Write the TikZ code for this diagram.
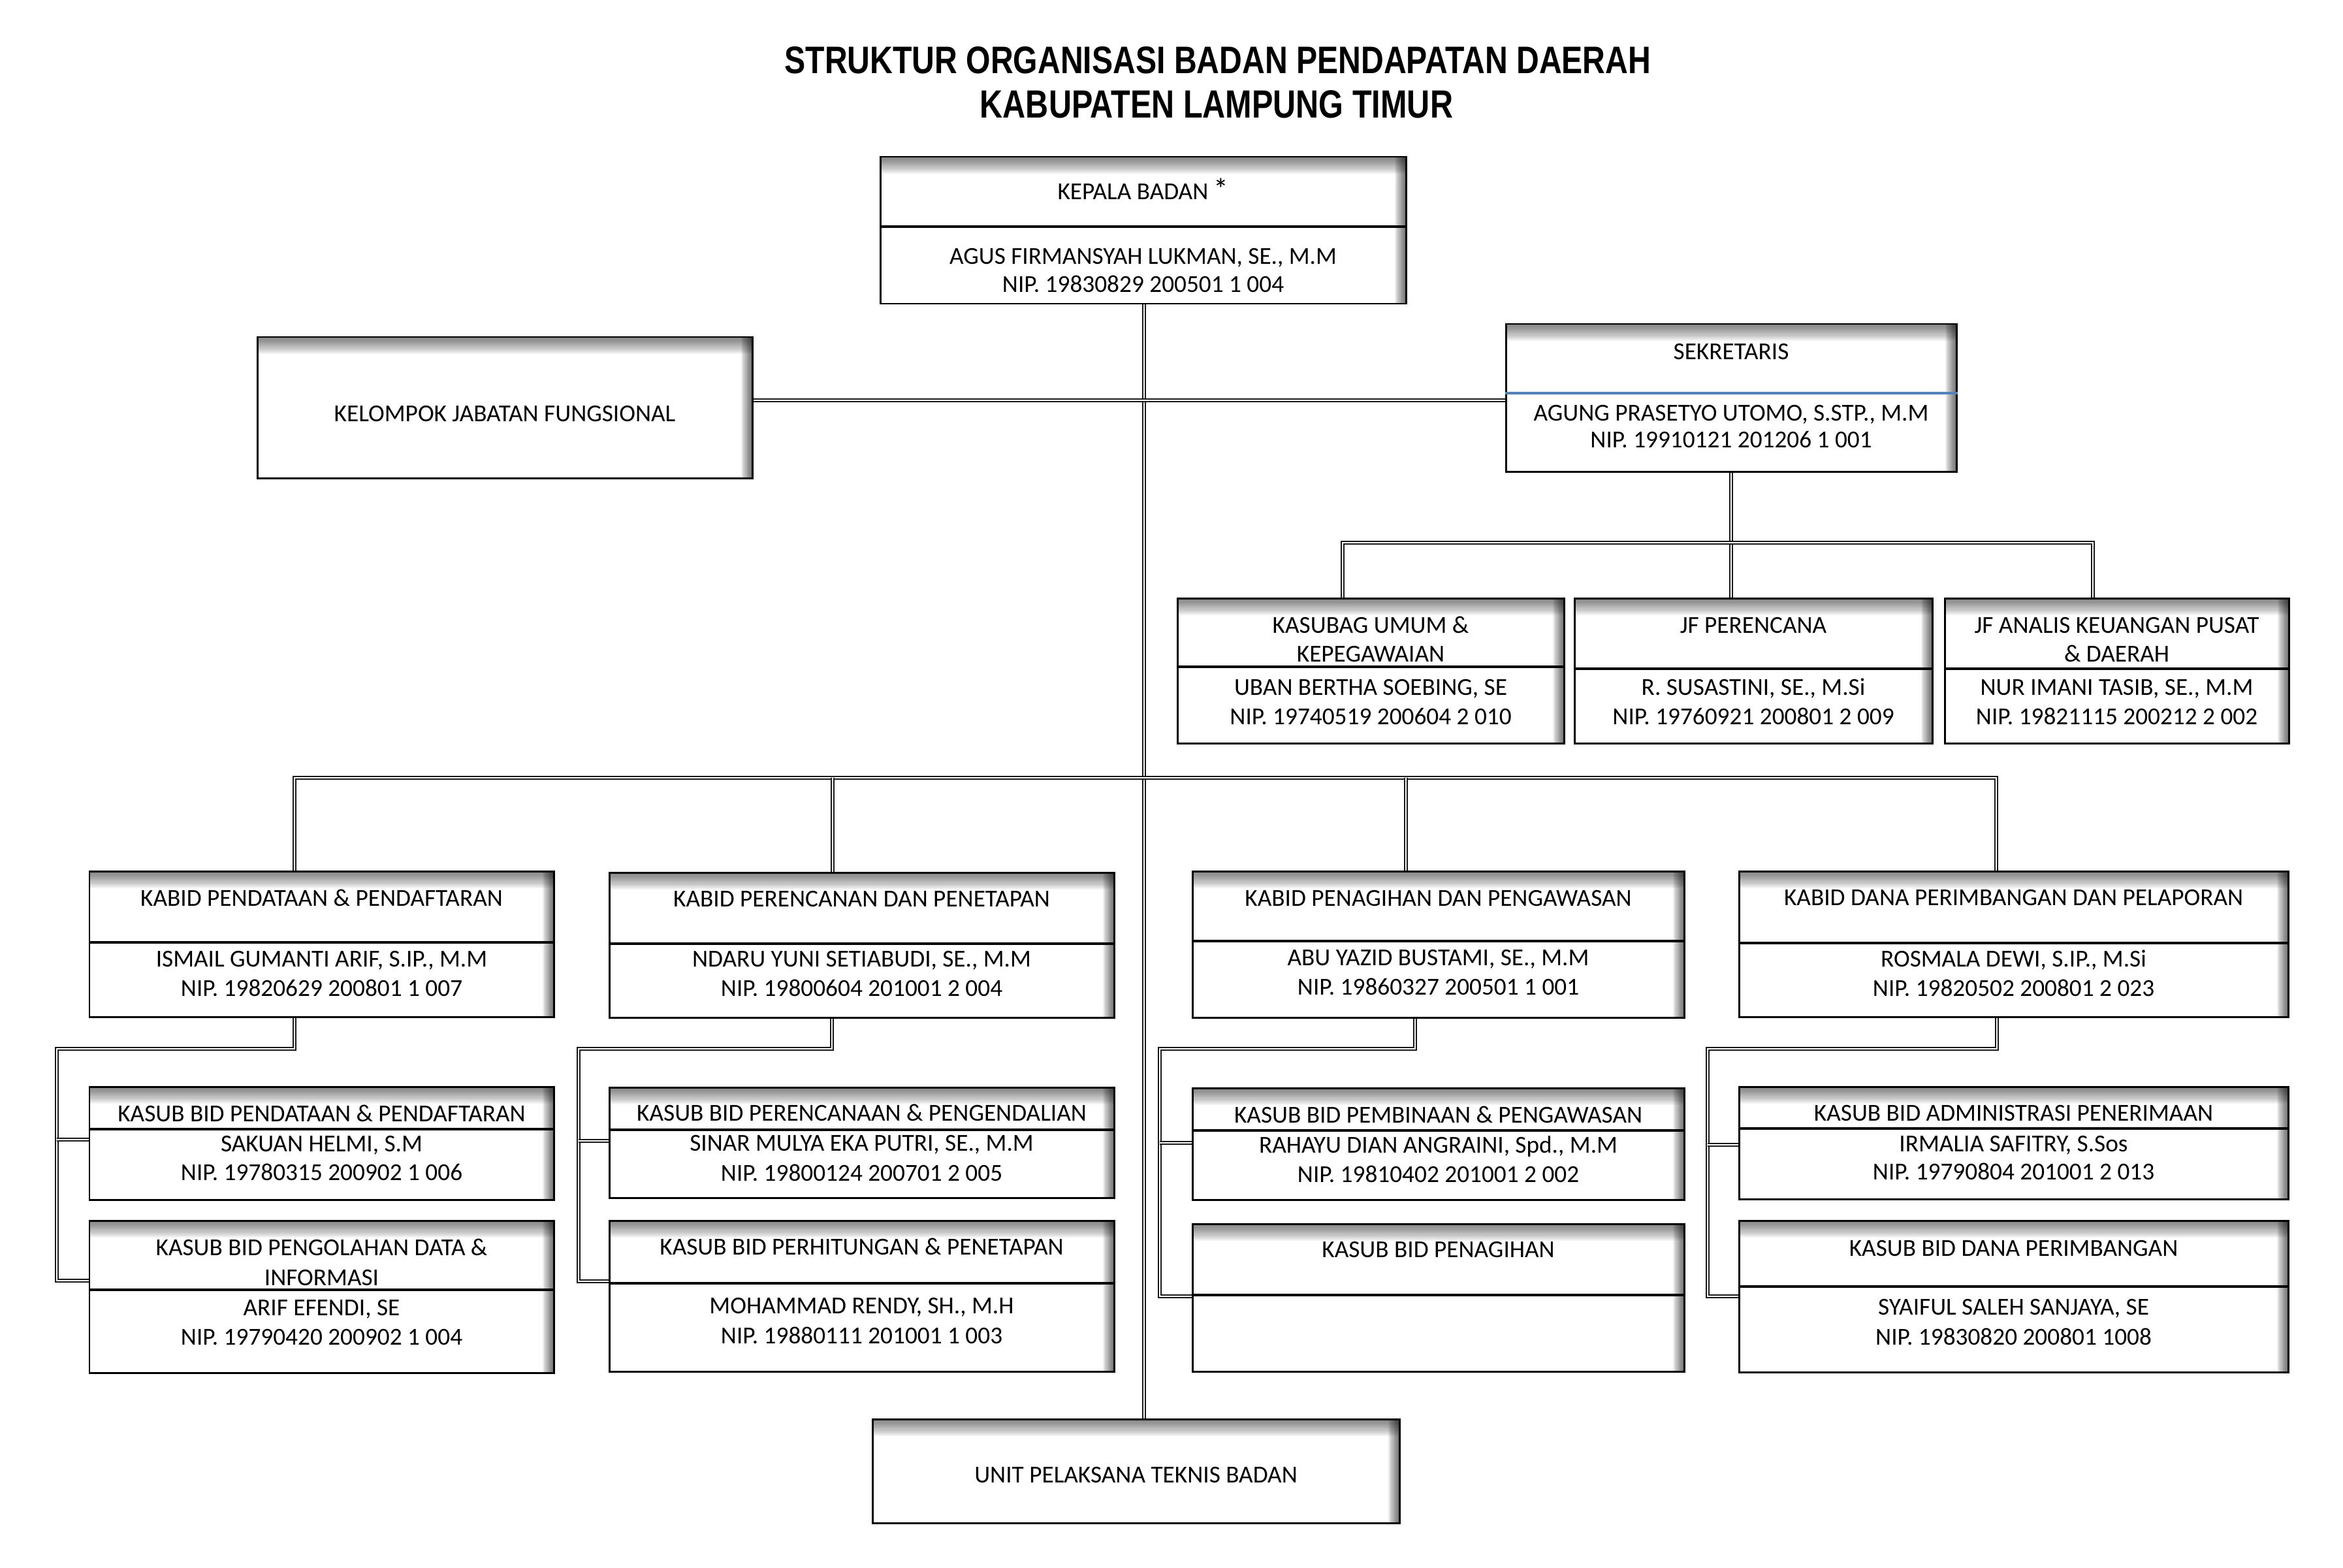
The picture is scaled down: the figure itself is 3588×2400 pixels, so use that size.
\documentclass[tikz,border=0pt]{standalone}
\usepackage{graphicx}
\usepackage{fontspec}
\setmainfont{Carlito}
\newfontfamily\titlefont{Liberation Sans}
\usetikzlibrary{fit,backgrounds}
\definecolor{divblue}{RGB}{79,129,189}
\tikzset{
  box/.style={draw=black, line width=0.85pt, fill=white, inner sep=0pt, rectangle,
    path picture={
      \foreach \i in {1,...,12} {
        \fill[black, fill opacity=0.05] (path picture bounding box.north west) rectangle ([yshift=-\i*0.022cm]path picture bounding box.north east);
      }
      \foreach \j in {1,...,10} {
        \fill[black, fill opacity=0.07] ([xshift=-\j*0.017cm]path picture bounding box.north east) rectangle (path picture bounding box.south east);
      }
    }},
  divline/.style={draw=black, line width=1pt},
  conn/.style={draw=black!90, line width=0.62pt, double=white, double distance=0.6pt},
  txt/.style={anchor=base, inner sep=0pt, font=\fontsize{10.6pt}{12.6pt}\selectfont}
}
\newcommand\obox[5]{\node[box, fit={(#2,#3) (#4,#5)}] (#1) {};}
\newcommand\odiv[3][black]{\draw[divline, draw=#1] (#2.west |- 0,#3) -- (#2.east |- 0,#3);}
\newcommand\tl[4]{\node[txt] (#1) at (#2.center |- 0,#3+12) {#4};}
\begin{document}
\begin{tikzpicture}[x=0.01cm, y=-0.01cm]
\useasboundingbox (0,0) rectangle (3588,2400);

% title
\node[anchor=base, inner sep=0pt] (title1) at (1865,113) {\resizebox{13.26cm}{0.41cm}{\titlefont\bfseries STRUKTUR ORGANISASI BADAN PENDAPATAN DAERAH}};
\node[anchor=base, inner sep=0pt] (title2) at (1863,180) {\resizebox{7.24cm}{0.42cm}{\titlefont\bfseries KABUPATEN LAMPUNG TIMUR}};

% boxes
\obox{kepala}{1348}{240}{2153}{465}
\obox{kelompok}{394}{516}{1152}{732}
\obox{sekretaris}{2306}{496}{2996}{722}
\obox{kasubag}{1803}{916}{2395}{1138}
\obox{jfp}{2411}{916}{2959}{1138}
\obox{jfa}{2978}{916}{3505}{1138}
\obox{kabid1}{137}{1334}{848}{1557}
\obox{kabid2}{933}{1336}{1706}{1558}
\obox{kabid3}{1826}{1334}{2579}{1558}
\obox{kabid4}{2663}{1334}{3504}{1557}
\obox{kasub1a}{137}{1664}{848}{1837}
\obox{kasub1b}{137}{1869}{848}{2102}
\obox{kasub2a}{933}{1665}{1706}{1834}
\obox{kasub2b}{933}{1869}{1706}{2100}
\obox{kasub3a}{1826}{1666}{2579}{1837}
\obox{kasub3b}{1826}{1874}{2579}{2100}
\obox{kasub4a}{2663}{1664}{3504}{1836}
\obox{kasub4b}{2663}{1869}{3504}{2101}
\obox{upt}{1336}{2173}{2143}{2332}

% dividers
\odiv{kepala}{347}
\odiv[divblue]{sekretaris}{602}
\odiv{kasubag}{1021}
\odiv{jfp}{1024}
\odiv{jfa}{1024}
\odiv{kabid1}{1443}
\odiv{kabid2}{1445}
\odiv{kabid3}{1441}
\odiv{kabid4}{1444}
\odiv{kasub1a}{1729}
\odiv{kasub1b}{1975}
\odiv{kasub2a}{1730}
\odiv{kasub2b}{1965}
\odiv{kasub3a}{1731}
\odiv{kasub3b}{1983}
\odiv{kasub4a}{1728}
\odiv{kasub4b}{1970}

% texts
\tl{kepala-1}{kepala}{293}{KEPALA BADAN {\fontsize{13pt}{13pt}\selectfont *}}
\tl{kepala-2}{kepala}{392}{AGUS FIRMANSYAH LUKMAN, SE., M.M}
\tl{kepala-3}{kepala}{435}{NIP. 19830829 200501 1 004}
\tl{kelompok-1}{kelompok}{633}{KELOMPOK JABATAN FUNGSIONAL}
\tl{sekretaris-1}{sekretaris}{538}{SEKRETARIS}
\tl{sekretaris-2}{sekretaris}{632}{AGUNG PRASETYO UTOMO, S.STP., M.M}
\tl{sekretaris-3}{sekretaris}{673}{NIP. 19910121 201206 1 001}
\tl{kasubag-1}{kasubag}{957}{KASUBAG UMUM \&}
\tl{kasubag-2}{kasubag}{1001}{KEPEGAWAIAN}
\tl{kasubag-3}{kasubag}{1052}{UBAN BERTHA SOEBING, SE}
\tl{kasubag-4}{kasubag}{1097}{NIP. 19740519 200604 2 010}
\tl{jfp-1}{jfp}{957}{JF PERENCANA}
\tl{jfp-2}{jfp}{1052}{R. SUSASTINI, SE., M.Si}
\tl{jfp-3}{jfp}{1097}{NIP. 19760921 200801 2 009}
\tl{jfa-1}{jfa}{957}{JF ANALIS KEUANGAN PUSAT}
\tl{jfa-2}{jfa}{1001}{\& DAERAH}
\tl{jfa-3}{jfa}{1052}{NUR IMANI TASIB, SE., M.M}
\tl{jfa-4}{jfa}{1097}{NIP. 19821115 200212 2 002}
\tl{kabid1-1}{kabid1}{1375}{KABID PENDATAAN \& PENDAFTARAN}
\tl{kabid1-2}{kabid1}{1468}{ISMAIL GUMANTI ARIF, S.IP., M.M}
\tl{kabid1-3}{kabid1}{1513}{NIP. 19820629 200801 1 007}
\tl{kabid2-1}{kabid2}{1376}{KABID PERENCANAN DAN PENETAPAN}
\tl{kabid2-2}{kabid2}{1468}{NDARU YUNI SETIABUDI, SE., M.M}
\tl{kabid2-3}{kabid2}{1513}{NIP. 19800604 201001 2 004}
\tl{kabid3-1}{kabid3}{1375}{KABID PENAGIHAN DAN PENGAWASAN}
\tl{kabid3-2}{kabid3}{1466}{ABU YAZID BUSTAMI, SE., M.M}
\tl{kabid3-3}{kabid3}{1511}{NIP. 19860327 200501 1 001}
\tl{kabid4-1}{kabid4}{1374}{KABID DANA PERIMBANGAN DAN PELAPORAN}
\tl{kabid4-2}{kabid4}{1468}{ROSMALA DEWI, S.IP., M.Si}
\tl{kabid4-3}{kabid4}{1513}{NIP. 19820502 200801 2 023}
\tl{kasub1a-1}{kasub1a}{1705}{KASUB BID PENDATAAN \& PENDAFTARAN}
\tl{kasub1a-2}{kasub1a}{1751}{SAKUAN HELMI, S.M}
\tl{kasub1a-3}{kasub1a}{1795}{NIP. 19780315 200902 1 006}
\tl{kasub1b-1}{kasub1b}{1910}{KASUB BID PENGOLAHAN DATA \&}
\tl{kasub1b-2}{kasub1b}{1956}{INFORMASI}
\tl{kasub1b-3}{kasub1b}{2002}{ARIF EFENDI, SE}
\tl{kasub1b-4}{kasub1b}{2047}{NIP. 19790420 200902 1 004}
\tl{kasub2a-1}{kasub2a}{1704}{KASUB BID PERENCANAAN \& PENGENDALIAN}
\tl{kasub2a-2}{kasub2a}{1750}{SINAR MULYA EKA PUTRI, SE., M.M}
\tl{kasub2a-3}{kasub2a}{1796}{NIP. 19800124 200701 2 005}
\tl{kasub2b-1}{kasub2b}{1909}{KASUB BID PERHITUNGAN \& PENETAPAN}
\tl{kasub2b-2}{kasub2b}{1999}{MOHAMMAD RENDY, SH., M.H}
\tl{kasub2b-3}{kasub2b}{2045}{NIP. 19880111 201001 1 003}
\tl{kasub3a-1}{kasub3a}{1707}{KASUB BID PEMBINAAN \& PENGAWASAN}
\tl{kasub3a-2}{kasub3a}{1753}{RAHAYU DIAN ANGRAINI, Spd., M.M}
\tl{kasub3a-3}{kasub3a}{1798}{NIP. 19810402 201001 2 002}
\tl{kasub3b-1}{kasub3b}{1913}{KASUB BID PENAGIHAN}
\tl{kasub4a-1}{kasub4a}{1704}{KASUB BID ADMINISTRASI PENERIMAAN}
\tl{kasub4a-2}{kasub4a}{1751}{IRMALIA SAFITRY, S.Sos}
\tl{kasub4a-3}{kasub4a}{1794}{NIP. 19790804 201001 2 013}
\tl{kasub4b-1}{kasub4b}{1911}{KASUB BID DANA PERIMBANGAN}
\tl{kasub4b-2}{kasub4b}{2001}{SYAIFUL SALEH SANJAYA, SE}
\tl{kasub4b-3}{kasub4b}{2047}{NIP. 19830820 200801 1008}
\tl{upt-1}{upt}{2258}{UNIT PELAKSANA TEKNIS BADAN}

% connectors
\coordinate (cv) at (1752,465);
\coordinate (hl) at (1152,613);
\coordinate (sbL) at (2056,831);
\coordinate (sbR) at (3205,831);
\coordinate (mb1) at (451,1191);
\coordinate (mb2) at (1275,1191);
\coordinate (mb3) at (2153,1191);
\coordinate (mb4) at (3057,1191);
\coordinate (g1a) at (451,1606);  \coordinate (g1b) at (87,1606);
\coordinate (g2a) at (1274,1606); \coordinate (g2b) at (886,1606);
\coordinate (g3a) at (2167,1606); \coordinate (g3b) at (1776,1606);
\coordinate (g4a) at (3058,1606); \coordinate (g4b) at (2615,1606);

\begin{pgfonlayer}{background}
\draw[conn] (cv |- kepala.south) -- (cv |- upt.north);
\draw[conn] (kelompok.east |- hl) -- (sekretaris.west |- hl);
\draw[conn] (sekretaris.south) -- (sekretaris.south |- jfp.north);
\draw[conn] (sbL |- kasubag.north) -- (sbL) -- (sbR) -- (sbR |- jfa.north);
\draw[conn] (mb1 |- kabid1.north) -- (mb1) -- (mb4) -- (mb4 |- kabid4.north);
\draw[conn] (mb2) -- (mb2 |- kabid2.north);
\draw[conn] (mb3) -- (mb3 |- kabid3.north);
% group 1
\draw[conn] (g1a |- kabid1.south) -- (g1a) -- (g1b) -- (g1b |- 0,1961) -- (kasub1b.west |- 0,1961);
\draw[conn] (g1b |- 0,1745) -- (kasub1a.west |- 0,1745);
% group 2
\draw[conn] (g2a |- kabid2.south) -- (g2a) -- (g2b) -- (g2b |- 0,1962) -- (kasub2b.west |- 0,1962);
\draw[conn] (g2b |- 0,1747) -- (kasub2a.west |- 0,1747);
% group 3
\draw[conn] (g3a |- kabid3.south) -- (g3a) -- (g3b) -- (g3b |- 0,1985) -- (kasub3b.west |- 0,1985);
\draw[conn] (g3b |- 0,1750) -- (kasub3a.west |- 0,1750);
% group 4
\draw[conn] (g4a |- kabid4.south) -- (g4a) -- (g4b) -- (g4b |- 0,1985) -- (kasub4b.west |- 0,1985);
\draw[conn] (g4b |- 0,1753) -- (kasub4a.west |- 0,1753);
\end{pgfonlayer}
\end{tikzpicture}
\end{document}
